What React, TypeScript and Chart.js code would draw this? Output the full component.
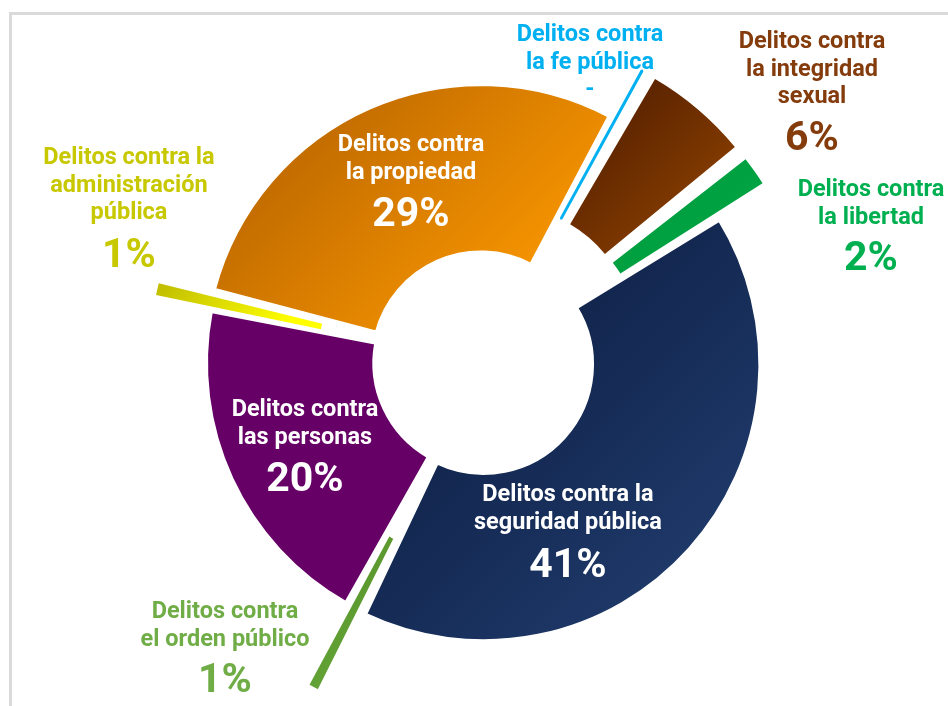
import React, { useEffect, useRef } from "react";
import { Chart, registerables } from "chart.js";

Chart.register(...registerables);

// ---- data ----
const categories = [
  "Delitos contra la propiedad",
  "Delitos contra la fe pública",
  "Delitos contra la integridad sexual",
  "Delitos contra la libertad",
  "Delitos contra la seguridad pública",
  "Delitos contra el orden público",
  "Delitos contra las personas",
  "Delitos contra la administración pública",
];
const shares = [28.6, 0.5, 6.0, 2.0, 40.8, 1.15, 19.8, 1.1];
const percentLabels = ["29%", "-", "6%", "2%", "41%", "1%", "20%", "1%"];
const labelLines = [
  ["Delitos contra", "la propiedad"],
  ["Delitos contra", "la fe pública"],
  ["Delitos contra", "la integridad", "sexual"],
  ["Delitos contra", "la libertad"],
  ["Delitos contra la", "seguridad pública"],
  ["Delitos contra", "el orden público"],
  ["Delitos contra", "las personas"],
  ["Delitos contra la", "administración", "pública"],
];

// ---- styling ----
const fillStart = ["#c26c00", "#00b0f0", "#5c2400", "#00a040", "#12264e", "#5c9a30", "#660066", "#b0ad00"];
const fillEnd = ["#f39200", "#00b0f0", "#7e3800", "#00a343", "#1e3868", "#66a636", "#660066", "#ffff00"];
const textColors = ["#ffffff", "#00b0f0", "#843c0c", "#00b050", "#ffffff", "#70ad47", "#ffffff", "#c8c800"];
const sliceOffsets = [12, 116, 140, 122, 8, 185, 0, 118];
const borderWidths = [4, 2.5, 0, 0, 4, 0, 4, 0];
const borderColors = ["#ffffff", "#00b0f0", "#ffffff", "#ffffff", "#ffffff", "#ffffff", "#ffffff", "#ffffff"];

const ROTATION = 284.8;
const RADIUS = 276;
const CUTOUT = 0.39;

const labelPos = [
  { x: 411, y: 143, pctY: 212 },
  { x: 590, y: 33, pctY: 88 },
  { x: 812, y: 40, pctY: 136 },
  { x: 871, y: 188, pctY: 256 },
  { x: 568, y: 493, pctY: 563 },
  { x: 225, y: 610, pctY: 678 },
  { x: 305, y: 408, pctY: 477 },
  { x: 129, y: 156, pctY: 253 },
];
const LINE_STEP = 27.5;
const NAME_FONT = 23.5;
const PCT_FONT = 41;

function sliceFill(ctx: any) {
  const i = ctx.dataIndex;
  const chart = ctx.chart;
  const area = chart.chartArea;
  if (!area || i === undefined) return fillEnd[i ?? 0];
  const cx = (area.left + area.right) / 2;
  const cy = (area.top + area.bottom) / 2;
  const total = shares.reduce((a, b) => a + b, 0);
  let acc = 0;
  for (let k = 0; k < i; k++) acc += shares[k];
  const a0 = ((ROTATION + (acc / total) * 360) * Math.PI) / 180;
  const a1 = a0 + (shares[i] / total) * 2 * Math.PI;
  const mid = (a0 + a1) / 2;
  const shift = sliceOffsets[i] / 2;
  const ox = cx + Math.sin(mid) * shift;
  const oy = cy - Math.cos(mid) * shift;
  const rIn = RADIUS * CUTOUT;
  const rOut = RADIUS;
  let lo = Infinity;
  let hi = -Infinity;
  const steps = 16;
  for (let s = 0; s <= steps; s++) {
    const a = a0 + ((a1 - a0) * s) / steps;
    for (const r of [rIn, rOut]) {
      const px = ox + Math.sin(a) * r;
      const py = oy - Math.cos(a) * r;
      const p = (px + py) / Math.SQRT2;
      lo = Math.min(lo, p);
      hi = Math.max(hi, p);
    }
  }
  const g = chart.ctx.createLinearGradient(lo / Math.SQRT2, lo / Math.SQRT2, hi / Math.SQRT2, hi / Math.SQRT2);
  g.addColorStop(0, fillStart[i]);
  g.addColorStop(1, fillEnd[i]);
  return g;
}

export default function App() {
  const ref = useRef<HTMLCanvasElement>(null);

  useEffect(() => {
    const canvas = ref.current;
    if (!canvas) return;
    const chart = new Chart(canvas, {
      type: "doughnut",
      data: {
        labels: categories,
        datasets: [
          {
            data: shares,
            backgroundColor: sliceFill as any,
            borderColor: borderColors,
            borderWidth: borderWidths,
            offset: sliceOffsets,
            hoverOffset: 0,
          } as any,
        ],
      },
      options: {
        responsive: false,
        animation: false,
        devicePixelRatio: 1,
        rotation: ROTATION,
        cutout: `${CUTOUT * 100}%`,
        radius: RADIUS,
        layout: { padding: { left: 16, top: 20, right: 0, bottom: 0 } },
        events: [],
        plugins: {
          legend: { display: false },
          tooltip: { enabled: false },
        },
      } as any,
    });
    return () => chart.destroy();
  }, []);

  return (
    <div
      style={{
        position: "absolute",
        left: 0,
        top: 0,
        width: 948,
        height: 706,
        overflow: "hidden",
        background: "#ffffff",
        fontFamily: "Roboto, 'Noto Sans', 'DejaVu Sans', sans-serif",
      }}
    >
      <div
        style={{
          position: "absolute",
          left: 9,
          top: 12,
          width: 1000,
          height: 800,
          borderTop: "3px solid #dadada",
          borderLeft: "3px solid #dadada",
          boxSizing: "border-box",
        }}
      />
      <canvas
        ref={ref}
        width={948}
        height={706}
        style={{ position: "absolute", left: 0, top: 0, width: 948, height: 706 }}
      />
      {labelLines.map((lines, i) => {
        const pos = labelPos[i];
        const color = textColors[i];
        const pct = percentLabels[i];
        const pctSize = pct === "-" ? NAME_FONT : PCT_FONT;
        return (
          <React.Fragment key={i}>
            {lines.map((t, j) => (
              <div
                key={j}
                style={{
                  position: "absolute",
                  left: pos.x - 200,
                  width: 400,
                  top: pos.y + j * LINE_STEP - 15,
                  height: 30,
                  lineHeight: "30px",
                  textAlign: "center",
                  fontSize: NAME_FONT,
                  fontWeight: 700,
                  color,
                  whiteSpace: "nowrap",
                }}
              >
                {t}
              </div>
            ))}
            <div
              style={{
                position: "absolute",
                left: pos.x - 200,
                width: 400,
                top: pos.pctY - 25,
                height: 50,
                lineHeight: "50px",
                textAlign: "center",
                fontSize: pctSize,
                fontWeight: 700,
                color,
                whiteSpace: "nowrap",
              }}
            >
              {pct}
            </div>
          </React.Fragment>
        );
      })}
    </div>
  );
}
